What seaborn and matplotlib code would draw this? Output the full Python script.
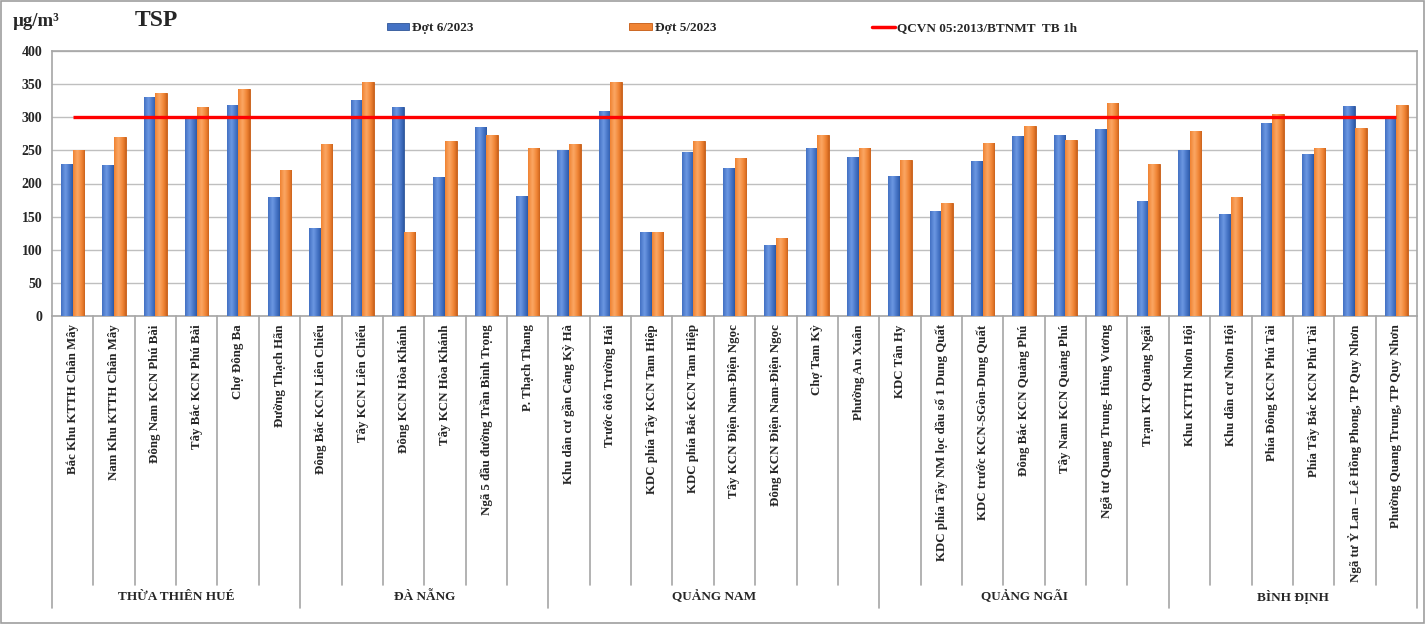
import matplotlib
matplotlib.use('Agg')
import matplotlib.pyplot as plt
import seaborn as sns
import pandas as pd
import numpy as np
from matplotlib.patches import Rectangle, Patch
from matplotlib.lines import Line2D
from matplotlib.colors import LinearSegmentedColormap

sites = [
    "Bắc Khu KTTH Chân Mây", "Nam Khu KTTH Chân Mây", "Đông Nam KCN Phú Bài",
    "Tây Bắc KCN Phú Bài", "Chợ Đông Ba", "Đường Thạch Hãn",
    "Đông Bắc KCN Liên Chiểu", "Tây KCN Liên Chiểu", "Đông KCN Hòa Khánh",
    "Tây KCN Hòa Khánh", "Ngã 5 đầu đường Trần Bình Trọng", "P. Thạch Thang",
    "Khu dân cư gần Cảng Kỳ Hà", "Trước ôtô Trường Hải", "KDC phía Tây KCN Tam Hiệp",
    "KDC phía Bắc KCN Tam Hiệp", "Tây KCN Điện Nam-Điện Ngọc", "Đông KCN Điện Nam-Điện Ngọc",
    "Chợ Tam Kỳ", "Phường An Xuân",
    "KDC Tân Hy", "KDC phía Tây NM lọc dầu số 1 Dung Quất", "KDC trước KCN-SGòn-Dung Quất",
    "Đông Bắc KCN Quảng Phú", "Tây Nam KCN Quảng Phú", "Ngã tư Quang Trung- Hùng Vương",
    "Trạm KT Quảng Ngãi",
    "Khu KTTH Nhơn Hội", "Khu dân cư Nhơn Hội", "Phía Đông KCN Phú Tài",
    "Phía Tây Bắc KCN Phú Tài", "Ngã tư Ỷ Lan – Lê Hồng Phong, TP Quy Nhơn",
    "Phường Quang Trung, TP Quy Nhơn",
]
groups = ["THỪA THIÊN HUÉ", "ĐÀ NẴNG", "QUẢNG NAM", "QUẢNG NGÃI", "BÌNH ĐỊNH"]
group_sizes = [6, 6, 8, 7, 6]

dot6 = [230, 228, 330, 298, 319, 179,
        133, 326, 316, 210, 285, 181,
        250, 310, 127, 247, 224, 107, 253, 240,
        212, 159, 234, 272, 273, 283, 174,
        250, 154, 291, 244, 317, 301]
dot5 = [250, 270, 336, 315, 342, 221,
        260, 353, 127, 264, 273, 254,
        260, 353, 127, 264, 238, 118, 273, 254,
        235, 171, 261, 287, 266, 321, 230,
        279, 179, 305, 254, 284, 319]
qcvn_limit = 300
series_names = ["Đợt 6/2023", "Đợt 5/2023"]
limit_label = "QCVN 05:2013/BTNMT  TB 1h"
yticks = [0, 50, 100, 150, 200, 250, 300, 350, 400]

BLUE = "#4472C4"
ORANGE = "#F08434"
BLUE_DARK = "#2F5597"
ORANGE_DARK = "#C55A11"
GREY = "#A6A6A6"

sns.set_theme(style="white")
plt.rcParams['font.family'] = ['Liberation Serif', 'DejaVu Serif']
plt.rcParams['font.weight'] = 'bold'

n = len(sites)
df = pd.DataFrame({
    "site": sites * 2,
    "series": [series_names[0]] * n + [series_names[1]] * n,
    "value": dot6 + dot5,
})

fig = plt.figure(figsize=(14.25, 6.24), dpi=100)
ax = fig.add_axes([52 / 1425, 1 - 316 / 624, (1417 - 52) / 1425, (316 - 51) / 624])

sns.barplot(data=df, x="site", y="value", hue="series", order=sites,
            hue_order=series_names, palette=[BLUE, ORANGE], width=0.56,
            saturation=1, errorbar=None, legend=False, ax=ax, zorder=3)

# cylinder-like shading on bars
prof = np.linspace(0, 1, 64)
shade = np.clip(1 - np.abs(prof - 0.38) / 0.62, 0, 1) ** 0.8
grad = shade[np.newaxis, :]
cmaps = [
    LinearSegmentedColormap.from_list("b", ["#2B57A3", "#4472C4", "#6B97E2"]),
    LinearSegmentedColormap.from_list("o", ["#C9611B", "#F08434", "#FBA663"]),
]
edges = [BLUE_DARK, ORANGE_DARK]
for ci, cont in enumerate(ax.containers[:2]):
    for bar in cont:
        bar.set_edgecolor(edges[ci])
        bar.set_linewidth(0.6)
        x0, y0 = bar.get_x(), bar.get_y()
        w, h = bar.get_width(), bar.get_height()
        im = ax.imshow(grad, cmap=cmaps[ci], extent=[x0, x0 + w, y0, y0 + h],
                       aspect='auto', zorder=3.1, interpolation='bilinear')
        im.set_clip_path(bar)

ax.set_xlim(-0.5, n - 0.5)
ax.set_ylim(0, 400)

ax.hlines(qcvn_limit, 0, n - 1, color="#FF0000", lw=2.4, zorder=5)

ax.set_yticks(yticks)
ax.set_yticklabels([str(v) for v in yticks], fontsize=10, fontweight='bold')
ax.tick_params(axis='y', length=0, pad=7)
ax.set_xticks(range(n))
ax.set_xticklabels(sites, rotation=90, fontsize=9.3, fontweight='bold', va='top', ha='center')
ax.tick_params(axis='x', length=0, pad=6)
ax.set_xlabel("")
ax.set_ylabel("")
ax.yaxis.grid(True, color="#BFBFBF", lw=1)
ax.xaxis.grid(False)
ax.set_axisbelow(True)
for sp in ax.spines.values():
    sp.set_visible(True)
    sp.set_color(GREY)
    sp.set_linewidth(1.2)

# category / group separators below the axis
trans = ax.get_xaxis_transform()
bounds = [0]
for s in group_sizes:
    bounds.append(bounds[-1] + s)
for i in range(n + 1):
    x = i - 0.5
    bottom = -1.10 if i in bounds else -1.015
    ax.plot([x, x], [0, bottom], transform=trans, color=GREY, lw=1.2, clip_on=False)
for gi, name in enumerate(groups):
    center = (bounds[gi] + bounds[gi + 1] - 1) / 2
    ax.text(center, -1.06, name, transform=trans, ha='center', va='center',
            fontsize=9.5, fontweight='bold')

fig.text(13 / 1425, 1 - 21 / 624, "µg/m³", fontsize=13.5, fontweight='bold', va='center', ha='left')
fig.text(135 / 1425, 1 - 21 / 624, "TSP", fontsize=17, fontweight='bold', va='center', ha='left')

handles = [Patch(facecolor=BLUE, edgecolor=BLUE_DARK, lw=0.6),
           Patch(facecolor=ORANGE, edgecolor=ORANGE_DARK, lw=0.6),
           Line2D([0], [0], color="#FF0000", lw=2.5)]
fig.legend(handles, series_names + [limit_label], loc='center',
           bbox_to_anchor=(0.5137, 1 - 28 / 624), ncol=3, frameon=False,
           columnspacing=11.85, handlelength=1.7, handleheight=0.45,
           handletextpad=0.2, prop={'size': 9.5, 'weight': 'bold'})

fig.patches.append(Rectangle((0.0007, 0.0015), 0.9986, 0.997, transform=fig.transFigure,
                             fill=False, edgecolor="#9E9E9E", lw=1.2))

fig.savefig("out.png", dpi=100)
